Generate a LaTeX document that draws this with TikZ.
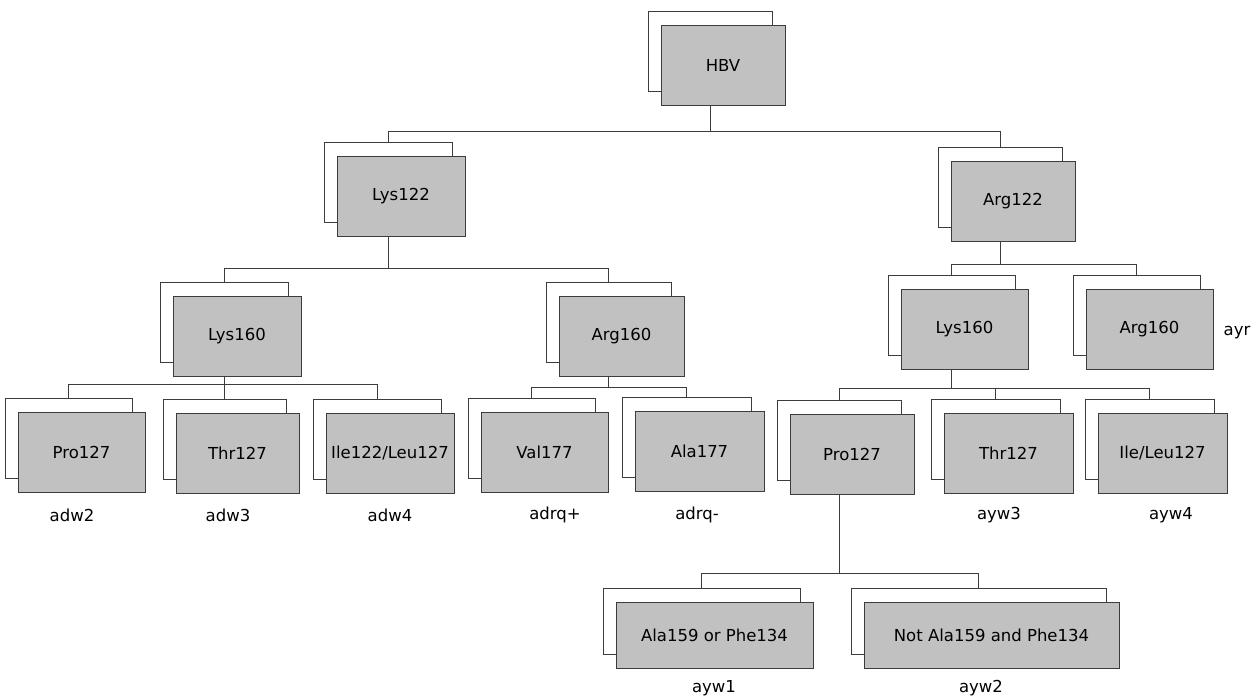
\documentclass[tikz,border=0pt]{standalone}
\usepackage{fontspec}
\setmainfont{DejaVu Sans}
\usetikzlibrary{shadows}
\definecolor{boxgrey}{RGB}{192,193,192}
\definecolor{edge}{RGB}{60,60,60}
\begin{document}
\begin{tikzpicture}[x = 1pt, y = -1pt,
    card/.style = {draw = edge, line width = .9pt, fill = boxgrey,
      minimum width = #1, minimum height = 80pt, inner sep = 0pt,
      copy shadow = {shadow xshift = -13pt, shadow yshift = 14pt,
        fill = white, draw = edge}},
    card/.default = 126pt,
    tag/.style = {inner sep = 0pt},
    link/.style = {draw = edge, line width = .9pt},
    every node/.style = {font = \fontsize{16.5}{19}\selectfont}]
    \useasboundingbox (0,0) rectangle (1258,699);
    % tree
    \node [card = 124pt] (hbv) at (723, 65) {HBV};
    \node [card = 128pt] (lys122) at (401, 196) {Lys122};
    \node [card = 124pt] (arg122) at (1013, 201) {Arg122};
    \node [card = 128pt] (lys160a) at (237, 336) {Lys160};
    \node [card = 125pt] (arg160a) at (621.5, 336) {Arg160};
    \node [card = 127pt] (lys160b) at (964.5, 329) {Lys160};
    \node [card = 127pt] (arg160b) at (1149.5, 329) {Arg160};
    \node [card = 127pt] (pro127a) at (81.5, 452) {Pro127};
    \node [card = 123pt] (thr127a) at (237.5, 453.5) {Thr127};
    \node [card = 128pt] (ile122) at (390, 453) {Ile122/Leu127};
    \node [card = 127pt] (val177) at (544.5, 452) {Val177};
    \node [card = 129pt] (ala177) at (699.5, 451.5) {Ala177};
    \node [card = 124pt] (pro127b) at (852, 454.5) {Pro127};
    \node [card = 129pt] (thr127b) at (1008.5, 453.5) {Thr127};
    \node [card = 129pt] (ileleu) at (1162.5, 453) {Ile/Leu127};
    \node [card = 197pt, minimum height = 66pt] (ala159) at (714.5, 635) {Ala159 or Phe134};
    \node [card = 255pt, minimum height = 66pt] (notala) at (991.5, 635) {Not Ala159 and Phe134};
    % subtypes
    \node [tag] (adw2) at (72, 515) {adw2};
    \node [tag] (adw3) at (228, 515) {adw3};
    \node [tag] (adw4) at (390, 515) {adw4};
    \node [tag] (adrqp) at (555, 515) {adrq+};
    \node [tag] (adrqm) at (697, 515) {adrq-};
    \node [tag] (ayw3) at (999, 515) {ayw3};
    \node [tag] (ayw4) at (1171, 515) {ayw4};
    \node [tag] (ayr) at (1237, 333) {ayr};
    \node [tag] (ayw1) at (714, 688) {ayw1};
    \node [tag] (ayw2) at (981, 688) {ayw2};
    % connectors
    \foreach \p/\d/\c in {hbv/26/lys122, hbv/26/arg122,
        lys122/32/lys160a, lys122/32/arg160a,
        arg122/23/lys160b, arg122/23/arg160b,
        lys160a/8/pro127a, lys160a/8/thr127a, lys160a/8/ile122,
        arg160a/11/val177, arg160a/11/ala177,
        lys160b/19/pro127b, lys160b/19/thr127b, lys160b/19/ileleu,
        pro127b/78/ala159, pro127b/78/notala}
      \draw [link] ([xshift = -13pt]\p.south) -- ++(0, \d)
        -| ([xshift = -13pt, yshift = 14pt]\c.north);
  \end{tikzpicture}
\end{document}
